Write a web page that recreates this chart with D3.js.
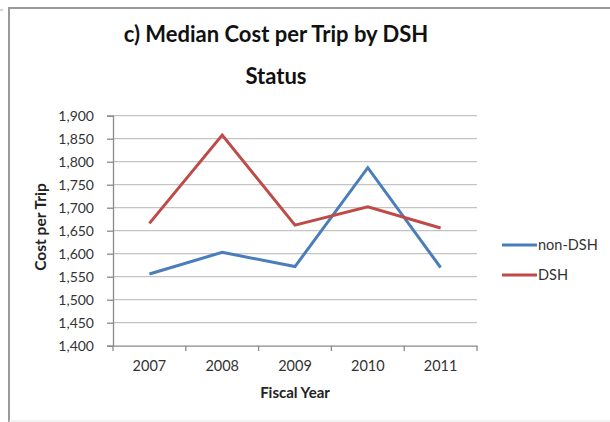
<!DOCTYPE html>
<html><head><meta charset="utf-8">
<script src="https://cdn.jsdelivr.net/npm/d3@7"></script>
<style>body{margin:0;background:#fff}svg{display:block}</style>
</head><body>
<script>
const years = ["2007","2008","2009","2010","2011"];
const nonDSH = [1556, 1603, 1572, 1787, 1570];
const DSH = [1666, 1858, 1662, 1702, 1656];
const yTicks = [1400,1450,1500,1550,1600,1650,1700,1750,1800,1850,1900];
const seriesNames = ["non-DSH","DSH"];
const seriesColors = ["#4A7EBB","#BE4B48"];

const W=610,H=422;
const svg=d3.select("body").append("svg").attr("width",W).attr("height",H);
const font="Lato, 'Open Sans', sans-serif";

// frame
svg.append("path").attr("d","M9,422 V8 H610").attr("fill","none").attr("stroke","#9a9a9a").attr("stroke-width",2);
svg.append("line").attr("x1",0).attr("x2",3).attr("y1",10).attr("y2",10).attr("stroke","#aaa");
svg.append("line").attr("x1",9).attr("x2",610).attr("y1",421).attr("y2",421).attr("stroke","#e6e6e6");

const x=d3.scaleBand().domain(years).range([113,477]);
const y=d3.scaleLinear().domain([1400,1900]).range([345.7,115.7]);

// gridlines
svg.append("g").selectAll("line").data(yTicks.slice(1)).join("line")
  .attr("x1",113).attr("x2",477).attr("y1",d=>y(d)).attr("y2",d=>y(d))
  .attr("stroke","#c4c4c4").attr("stroke-width",1.3);

// y axis
const yAxis=svg.append("g").attr("transform","translate(113,0)")
  .call(d3.axisLeft(y).tickValues(yTicks).tickSize(6).tickPadding(13).tickFormat(d3.format(",")));
yAxis.select(".domain").attr("stroke","#8a8a8a").attr("stroke-width",1.3);
yAxis.selectAll(".tick line").attr("stroke","#8a8a8a").attr("stroke-width",1.3);
yAxis.selectAll("text").attr("font-family",font).attr("font-size",14).attr("fill","#333");

// x axis
const xAxis=svg.append("g").attr("transform","translate(0,345.7)")
  .call(d3.axisBottom(x).tickSize(0).tickPadding(15));
xAxis.select(".domain").attr("stroke","#8a8a8a").attr("stroke-width",1.3);
xAxis.selectAll("text").attr("font-family",font).attr("font-size",14.5).attr("fill","#333");
svg.append("g").selectAll("line").data(years.concat(["end"])).join("line")
  .attr("x1",(d,i)=>i<years.length?x(d):x.range()[1]).attr("x2",(d,i)=>i<years.length?x(d):x.range()[1])
  .attr("y1",345.7).attr("y2",351).attr("stroke","#8a8a8a").attr("stroke-width",1.3);

// lines
const line=d3.line().x((d,i)=>x(years[i])+x.bandwidth()/2).y(d=>y(d));
[nonDSH,DSH].forEach((s,k)=>{
  svg.append("path").attr("d",line(s)).attr("fill","none").attr("stroke",seriesColors[k]).attr("stroke-width",3).attr("stroke-linejoin","miter");
});

// legend
seriesNames.forEach((n,k)=>{
  const ly=245+k*30;
  svg.append("line").attr("x1",502).attr("x2",537).attr("y1",ly).attr("y2",ly).attr("stroke",seriesColors[k]).attr("stroke-width",3);
  svg.append("text").attr("x",538).attr("y",ly).attr("dy","0.35em").attr("font-family",font).attr("font-size",14.5).attr("fill","#333").text(n);
});

// titles
svg.append("text").attr("x",276).attr("y",42).attr("text-anchor","middle").attr("font-family",font).attr("font-weight","bold").attr("font-size",22).attr("fill","#111").text("c) Median Cost per Trip by DSH");
svg.append("text").attr("x",276).attr("y",84).attr("text-anchor","middle").attr("font-family",font).attr("font-weight","bold").attr("font-size",22).attr("fill","#111").text("Status");
svg.append("text").attr("transform","translate(46,227) rotate(-90)").attr("text-anchor","middle").attr("font-family",font).attr("font-weight","bold").attr("font-size",15.5).attr("fill","#222").text("Cost per Trip");
svg.append("text").attr("x",295).attr("y",398).attr("text-anchor","middle").attr("font-family",font).attr("font-weight","bold").attr("font-size",15).attr("fill","#222").text("Fiscal Year");
</script>
</body></html>
